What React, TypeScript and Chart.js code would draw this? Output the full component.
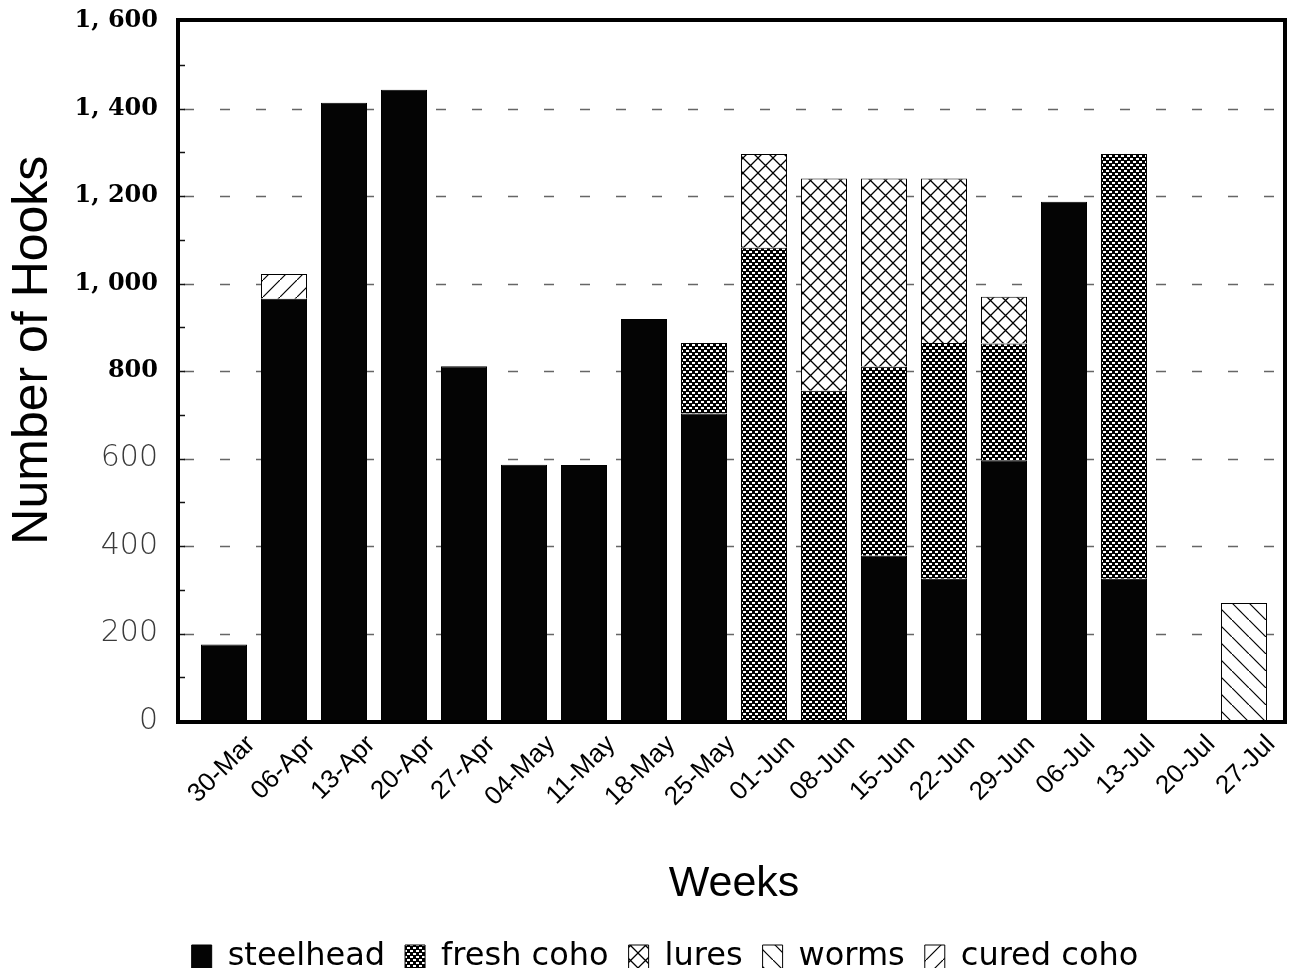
import { useEffect, useRef } from "react";
import { Chart, registerables } from "chart.js";

Chart.register(...registerables);

// Weekly hook counts by bait type
const weeks = [
  "30-Mar", "06-Apr", "13-Apr", "20-Apr", "27-Apr", "04-May", "11-May", "18-May", "25-May",
  "01-Jun", "08-Jun", "15-Jun", "22-Jun", "29-Jun", "06-Jul", "13-Jul", "20-Jul", "27-Jul",
];
const steelhead = [175, 965, 1413, 1443, 811, 586, 585, 919, 703, 0, 0, 378, 325, 595, 1187, 325, 0, 0];
const freshCoho = [0, 0, 0, 0, 0, 0, 0, 0, 161, 1082, 755, 432, 539, 268, 0, 971, 0, 0];
const lures = [0, 0, 0, 0, 0, 0, 0, 0, 0, 214, 485, 430, 376, 107, 0, 0, 0, 0];
const worms = [0, 0, 0, 0, 0, 0, 0, 0, 0, 0, 0, 0, 0, 0, 0, 0, 0, 270];
const curedCoho = [0, 57, 0, 0, 0, 0, 0, 0, 0, 0, 0, 0, 0, 0, 0, 0, 0, 0];

const yTickValues = [0, 200, 400, 600, 800, 1000, 1200, 1400, 1600];
const yTickLabels = ["0", "200", "400", "600", "800", "1, 000", "1, 200", "1, 400", "1, 600"];

// empty segments are left out of the stack so they draw no outline
const segment = (values: number[]) => values.map((v) => (v > 0 ? v : null));

function makePattern(size: number, paint: (g: CanvasRenderingContext2D) => void) {
  const c = document.createElement("canvas");
  c.width = size;
  c.height = size;
  const g = c.getContext("2d")!;
  paint(g);
  return g.createPattern(c, "repeat")!;
}

// Dashed gridlines, minor ticks and the heavy frame around the plot
const framePlugin = {
  id: "frame",
  beforeDatasetsDraw(chart: any) {
    const { ctx, chartArea: a, scales } = chart;
    const y = scales.y;
    const fl = a.left - 16;
    const fr = a.right + 11;
    ctx.save();
    ctx.strokeStyle = "#666";
    ctx.lineWidth = 1.5;
    ctx.setLineDash([10, 26]);
    for (const v of yTickValues) {
      if (v <= 0 || v >= 1600) continue;
      const py = Math.round(y.getPixelForValue(v)) + 0.5;
      ctx.beginPath();
      ctx.moveTo(fl + 6, py);
      ctx.lineTo(fr, py);
      ctx.stroke();
    }
    ctx.setLineDash([]);
    ctx.strokeStyle = "#111";
    ctx.lineWidth = 1.5;
    for (let v = 100; v < 1600; v += 100) {
      const py = Math.round(y.getPixelForValue(v)) + 0.5;
      ctx.beginPath();
      ctx.moveTo(fl, py);
      ctx.lineTo(fl + 7, py);
      ctx.stroke();
    }
    ctx.restore();
  },
  afterDatasetsDraw(chart: any) {
    const { ctx, chartArea: a } = chart;
    const fl = a.left - 16;
    const fr = a.right + 11;
    ctx.save();
    ctx.strokeStyle = "#000";
    ctx.lineWidth = 4;
    ctx.beginPath();
    ctx.moveTo(fl, a.bottom + 1);
    ctx.lineTo(fl, a.top - 1);
    ctx.lineTo(fr, a.top - 1);
    ctx.lineTo(fr, a.bottom + 1);
    ctx.stroke();
    ctx.beginPath();
    ctx.moveTo(fl - 2, a.bottom + 1);
    ctx.lineTo(fr + 2, a.bottom + 1);
    ctx.stroke();
    ctx.restore();
  },
};

export default function App() {
  const ref = useRef<HTMLCanvasElement | null>(null);

  useEffect(() => {
    const canvas = ref.current;
    if (!canvas) return;

    const solid = "#040404";
    const checker = makePattern(6, (g) => {
      g.fillStyle = "#000";
      g.fillRect(0, 0, 6, 6);
      g.fillStyle = "#fff";
      g.fillRect(0, 0, 3, 2);
      g.fillRect(3, 3, 3, 2);
    });
    const crossHatch = makePattern(15, (g) => {
      g.fillStyle = "#fff";
      g.fillRect(0, 0, 15, 15);
      g.strokeStyle = "#000";
      g.lineWidth = 1.3;
      g.beginPath();
      g.moveTo(-1, -1);
      g.lineTo(16, 16);
      g.moveTo(16, -1);
      g.lineTo(-1, 16);
      g.stroke();
    });
    const backHatch = makePattern(17, (g) => {
      g.fillStyle = "#fff";
      g.fillRect(0, 0, 17, 17);
      g.strokeStyle = "#000";
      g.lineWidth = 1.2;
      g.beginPath();
      g.moveTo(-2, -2);
      g.lineTo(19, 19);
      g.stroke();
    });
    const fwdHatch = makePattern(17, (g) => {
      g.fillStyle = "#fff";
      g.fillRect(0, 0, 17, 17);
      g.strokeStyle = "#000";
      g.lineWidth = 1.2;
      g.beginPath();
      g.moveTo(-2, 19);
      g.lineTo(19, -2);
      g.stroke();
    });

    const common = {
      borderColor: "#000",
      borderWidth: 1,
      borderSkipped: "start" as const,
      barPercentage: 0.767,
      categoryPercentage: 1,
    };

    const chart = new Chart(canvas, {
      type: "bar",
      data: {
        labels: weeks,
        datasets: [
          { label: "steelhead", data: segment(steelhead), backgroundColor: solid, ...common },
          { label: "fresh coho", data: segment(freshCoho), backgroundColor: checker, ...common },
          { label: "lures", data: segment(lures), backgroundColor: crossHatch, ...common },
          { label: "worms", data: segment(worms), backgroundColor: backHatch, ...common },
          { label: "cured coho", data: segment(curedCoho), backgroundColor: fwdHatch, ...common },
        ],
      },
      options: {
        responsive: false,
        animation: false,
        layout: { padding: { left: 48, right: 21, top: 13, bottom: -15 } },
        plugins: {
          tooltip: { enabled: false },
          legend: {
            position: "bottom",
            labels: {
              color: "#000",
              font: { family: "'DejaVu Sans', sans-serif", size: 32, lineHeight: 1 },
              boxWidth: 20,
              boxHeight: 24,
              padding: 20,
            },
          },
        },
        scales: {
          x: {
            stacked: true,
            offset: true,
            grid: { display: false, drawTicks: false },
            border: { display: false },
            ticks: {
              autoSkip: false,
              minRotation: 45,
              maxRotation: 45,
              labelOffset: 27,
              padding: 10,
              color: "#000",
              font: { family: "'Liberation Sans', Arial, sans-serif", size: 26, lineHeight: 1 },
            },
            title: {
              display: true,
              text: "Weeks",
              color: "#000",
              font: { family: "'Liberation Sans', Arial, sans-serif", size: 43, lineHeight: 1 },
              padding: { top: 0, bottom: 15 },
            },
            afterFit: (s: any) => {
              s.height = 200;
            },
          },
          y: {
            stacked: true,
            min: 0,
            max: 1600,
            grid: { display: false, drawTicks: true, tickLength: 36 },
            border: { display: false },
            ticks: {
              stepSize: 200,
              padding: 0,
              callback: (_v: any, i: number) => yTickLabels[i],
              color: (c: any) => (c.tick && c.tick.value >= 800 ? "#000" : "#3a3a3a"),
              font: (c: any) =>
                c.tick && c.tick.value >= 800
                  ? { family: "'DejaVu Serif', serif", weight: "bold", size: 24, lineHeight: 1 }
                  : { family: "'DejaVu Sans', sans-serif", weight: "300", size: 30, lineHeight: 1 },
            },
            title: {
              display: true,
              text: "   Number of Hooks",
              color: "#000",
              font: { family: "'Liberation Sans', Arial, sans-serif", size: 50, lineHeight: 1 },
              padding: { top: -48, bottom: 0 },
            },
            afterFit: (s: any) => {
              s.width = 138;
            },
          },
        },
      },
      plugins: [framePlugin],
    });

    return () => chart.destroy();
  }, []);

  return (
    <div style={{ width: 1287, height: 960 }}>
      <canvas ref={ref} width={1287} height={960} style={{ display: "block" }} />
    </div>
  );
}
